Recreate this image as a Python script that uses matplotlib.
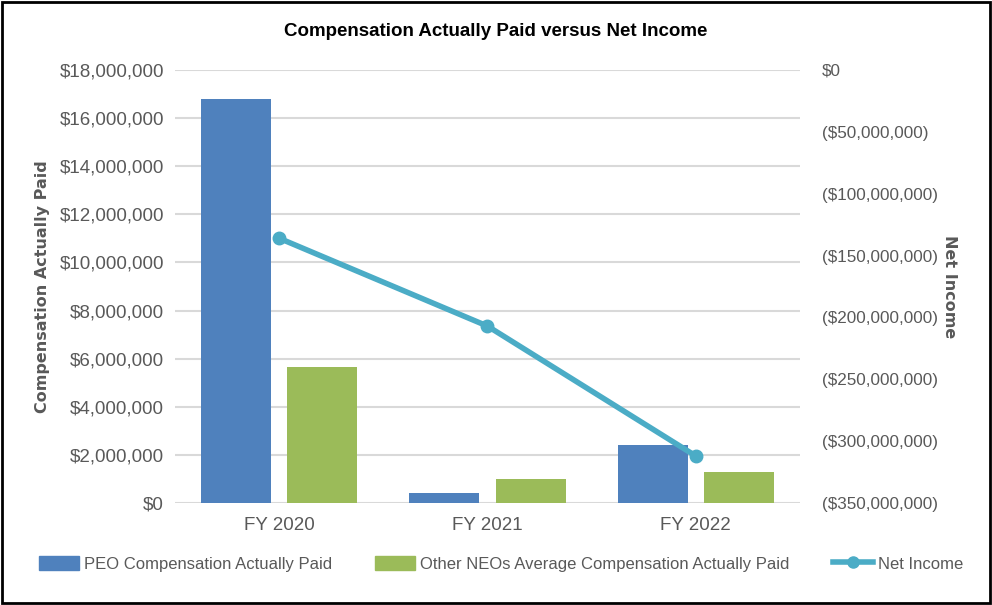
import matplotlib.pyplot as plt
import numpy as np
from matplotlib.ticker import FuncFormatter, MultipleLocator
from matplotlib.patches import Rectangle
from matplotlib.lines import Line2D

# --- Data ---
years = ['FY 2020', 'FY 2021', 'FY 2022']
peo_cap = [16790000, 430000, 2410000]
neo_cap = [5650000, 1000000, 1290000]
net_income = [-136000000, -207000000, -312000000]

blue = '#4F81BD'
green = '#9BBB59'
teal = '#4BACC6'
gray = '#595959'
narrow = ['Liberation Sans', 'DejaVu Sans']

fig = plt.figure(figsize=(9.92, 6.05), dpi=100)
ax = fig.add_axes([0.1764, 0.1686, 0.63, 0.7157])
ax2 = ax.twinx()

x = np.arange(len(years))
w = 0.336
ax.bar(x - 0.207, peo_cap, w, color=blue, zorder=2)
ax.bar(x + 0.207, neo_cap, w, color=green, zorder=2)
ax2.plot(x, net_income, color=teal, lw=4, marker='o', ms=9, zorder=3)

ax.set_xlim(-0.5, 2.5)
ax.set_ylim(0, 18000000)
ax2.set_ylim(-350000000, 0)
ax.yaxis.set_major_locator(MultipleLocator(2000000))
ax2.yaxis.set_major_locator(MultipleLocator(50000000))
ax.yaxis.set_major_formatter(FuncFormatter(lambda v, p: '${:,.0f}'.format(v)))


def neg_fmt(v, p):
    if v >= 0:
        return '${:,.0f}'.format(v)
    return '(${:,.0f})'.format(-v)


ax2.yaxis.set_major_formatter(FuncFormatter(neg_fmt))

ax.grid(axis='y', color='#D9D9D9', lw=1.5, zorder=0)
ax.set_axisbelow(True)
for a in (ax, ax2):
    for s in a.spines.values():
        s.set_visible(False)
    a.tick_params(length=0, colors=gray)
ax.tick_params(axis='y', pad=8)
ax2.tick_params(axis='y', pad=16)
ax.tick_params(axis='x', pad=10)
ax.set_xticks(x)
ax.set_xticklabels(years)
for lbl in ax.get_xticklabels() + ax.get_yticklabels():
    lbl.set_family(narrow)
    lbl.set_color(gray)
    lbl.set_fontsize(13.5)
for lbl in ax2.get_yticklabels():
    lbl.set_family(narrow)
    lbl.set_color(gray)
    lbl.set_fontsize(12.3)

ax.set_ylabel('Compensation Actually Paid', fontsize=11.5, fontweight='bold',
              color=gray)
ax2.set_ylabel('Net Income', fontsize=11.5, fontweight='bold', color=gray,
               rotation=270, va='center')
ax.yaxis.set_label_coords(-0.2, 0.5)
ax2.yaxis.set_label_coords(1.24, 0.5)

fig.text(0.5, 0.948, 'Compensation Actually Paid versus Net Income',
         ha='center', va='center', fontsize=13.5, fontweight='bold',
         family=narrow)

# legend
handles = [Rectangle((0, 0), 1, 1, color=blue),
           Rectangle((0, 0), 1, 1, color=green),
           Line2D([0], [0], color=teal, lw=4, marker='o', ms=8)]
labels = ['PEO Compensation Actually Paid',
          'Other NEOs Average Compensation Actually Paid', 'Net Income']
leg = fig.legend(handles, labels, loc='center', bbox_to_anchor=(0.505, 0.068),
                 ncol=3, frameon=False, handlelength=2.4, handleheight=0.9,
                 handletextpad=0.3, columnspacing=2.6,
                 prop={'family': narrow, 'size': 12})
for t in leg.get_texts():
    t.set_color(gray)

fig.patches.append(Rectangle((0.002, 0.003), 0.996, 0.994, transform=fig.transFigure,
                             fill=False, ec='black', lw=2))

fig.savefig('out.png', dpi=100)
